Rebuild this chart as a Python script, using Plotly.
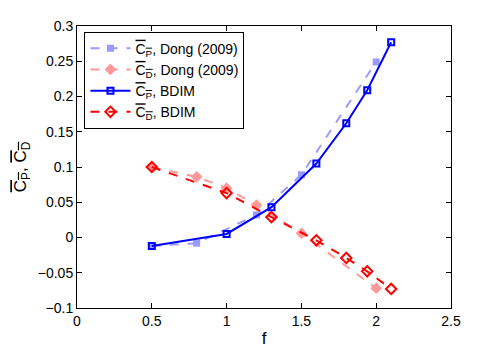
import plotly.graph_objects as go

# Dong (2009) reference data
f_dong_cp = [0.5, 0.8, 1.2, 1.5, 2.0]
cp_dong = [-0.012, -0.008, 0.032, 0.089, 0.249]
f_dong_cd = [0.5, 0.8, 1.0, 1.2, 1.5, 2.0]
cd_dong = [0.100, 0.086, 0.070, 0.046, 0.006, -0.072]

# BDIM results
f_bdim = [0.5, 1.0, 1.3, 1.6, 1.8, 1.94, 2.1]
cp_bdim = [-0.012, 0.005, 0.043, 0.105, 0.162, 0.209, 0.277]
cd_bdim = [0.100, 0.063, 0.029, -0.004, -0.029, -0.048, -0.073]

x_ticks = [0, 0.5, 1, 1.5, 2, 2.5]
y_ticks = [-0.1, -0.05, 0, 0.05, 0.1, 0.15, 0.2, 0.25, 0.3]


def ol(s, sub):
    return f'<span style="text-decoration:overline">{s}<sub>{sub}</sub></span>'


fig = go.Figure()
fig.add_trace(go.Scatter(
    x=f_dong_cp, y=cp_dong, mode='lines+markers',
    name=ol('C', 'P') + ', Dong (2009)',
    line=dict(color='#9999ff', width=2, dash='dash'),
    marker=dict(symbol='square', size=7, color='#9999ff')))
fig.add_trace(go.Scatter(
    x=f_dong_cd, y=cd_dong, mode='lines+markers',
    name=ol('C', 'D') + ', Dong (2009)',
    line=dict(color='#ff9999', width=2, dash='dash'),
    marker=dict(symbol='diamond', size=9, color='#ff9999')))
fig.add_trace(go.Scatter(
    x=f_bdim, y=cp_bdim, mode='lines+markers',
    name=ol('C', 'P') + ', BDIM',
    line=dict(color='#0000ff', width=2),
    marker=dict(symbol='square-open', size=6, color='#0000ff',
                line=dict(width=2))))
fig.add_trace(go.Scatter(
    x=f_bdim, y=cd_bdim, mode='lines+markers',
    name=ol('C', 'D') + ', BDIM',
    line=dict(color='#ff0000', width=2, dash='dash'),
    marker=dict(symbol='diamond-open', size=8, color='#ff0000',
                line=dict(width=2))))

axis_style = dict(
    showgrid=False, zeroline=False, showline=True, mirror='ticks',
    linecolor='black', linewidth=1, ticks='inside', ticklen=5,
    tickcolor='black', tickfont=dict(size=14, color='black'),
    automargin=False)

# page body has an 8px margin, so the figure is made 8px smaller
fig.update_layout(
    width=490, height=341,
    margin=dict(l=69, r=47, t=18, b=41),
    paper_bgcolor='white', plot_bgcolor='white',
    font=dict(family='Liberation Sans, Arial, sans-serif', size=14,
              color='black'),
    showlegend=True,
    legend=dict(x=0.02, y=0.98, xanchor='left', yanchor='top',
                bordercolor='black', borderwidth=1, bgcolor='white',
                font=dict(size=14), tracegroupgap=0, itemwidth=40),
    xaxis=dict(range=[0, 2.5], tickvals=x_ticks,
               ticktext=[str(t) for t in x_ticks],
               title=dict(text='f', standoff=4), **axis_style),
    yaxis=dict(range=[-0.1, 0.3], tickvals=y_ticks,
               ticktext=['\u22120.1', '\u22120.05', '0', '0.05', '0.1',
                         '0.15', '0.2', '0.25', '0.3'],
               title=dict(text=ol('C', 'P') + ', ' + ol('C', 'D'),
                          standoff=6), **axis_style),
)

fig.write_html("out.html")
